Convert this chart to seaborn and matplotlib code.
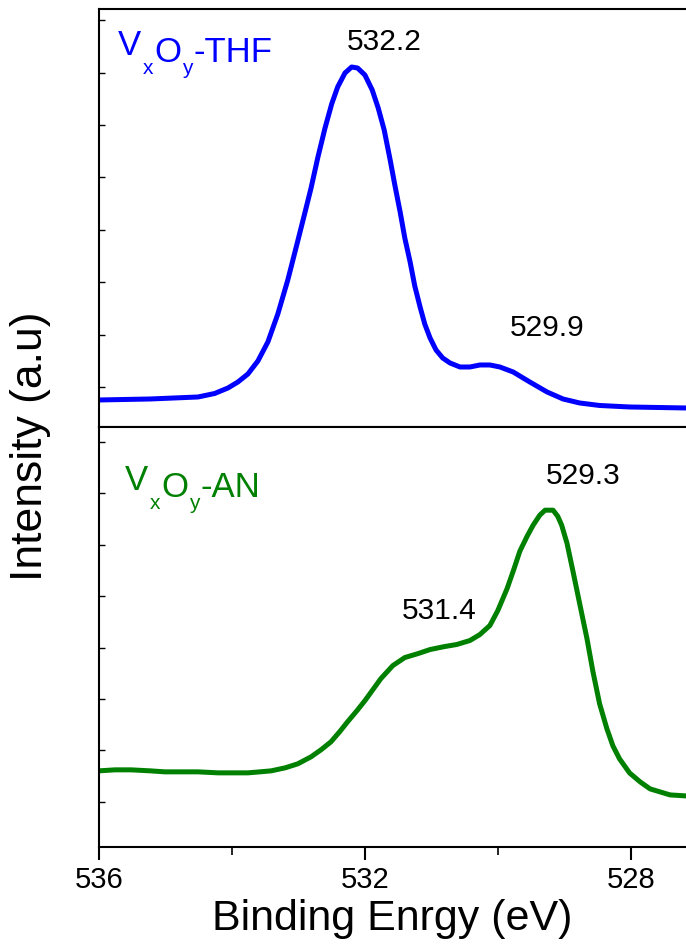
import matplotlib
matplotlib.use("Agg")
import matplotlib.pyplot as plt
import numpy as np
import pandas as pd
import seaborn as sns

# O 1s XPS spectra (arbitrary intensity units)
thf_energy = [536.00, 535.23, 534.51, 534.26, 534.06, 533.91, 533.76, 533.61, 533.46, 533.31,
              533.16, 533.01, 532.90, 532.81, 532.71, 532.60, 532.50, 532.41, 532.30, 532.20,
              532.11, 532.00, 531.89, 531.80, 531.71, 531.62, 531.55, 531.47, 531.40, 531.32,
              531.25, 531.17, 531.10, 531.02, 530.93, 530.83, 530.72, 530.57, 530.42, 530.27,
              530.12, 529.97, 529.77, 529.52, 529.26, 529.02, 528.77, 528.47, 528.02, 527.17]
thf_intensity = [27, 28, 30, 33.5, 39, 45, 53, 66, 85, 113,
                 147, 186, 215, 239, 269, 299, 323, 340, 354, 360,
                 359, 352, 337, 319, 297, 267, 242, 215, 189, 165,
                 141, 120, 103, 89, 77, 69, 64, 60, 60, 62,
                 62, 60, 55, 45, 35, 28, 24, 21.5, 20, 19]

an_energy = [536.00, 535.76, 535.52, 535.23, 535.01, 534.51, 534.21, 533.95, 533.76, 533.58,
             533.41, 533.20, 533.01, 532.81, 532.66, 532.51, 532.38, 532.26, 532.12, 532.00,
             531.88, 531.76, 531.58, 531.40, 531.20, 531.02, 530.80, 530.62, 530.42, 530.27,
             530.12, 530.00, 529.86, 529.76, 529.67, 529.56, 529.47, 529.37, 529.29, 529.17,
             529.10, 529.04, 528.96, 528.87, 528.77, 528.66, 528.57, 528.47, 528.36, 528.27,
             528.17, 528.02, 527.86, 527.71, 527.56, 527.41, 527.17]
an_intensity = [76, 77, 77, 76, 75, 75, 74, 74, 74, 75,
                76, 79, 83, 90, 97, 105, 115, 125, 136, 146,
                157, 168, 181, 189, 193, 197, 200, 202, 206, 212,
                221, 236, 258, 277, 295, 310, 321, 331, 336, 336,
                330, 321, 303, 275, 243, 208, 175, 143, 118, 101,
                88, 74, 65, 58, 55, 52, 51]

panel_tails = ["-THF", "-AN"]
panel_colors = ["#0000FF", "#008000"]
peak_text_top = ["532.2", "529.9"]
peak_text_bot = ["531.4", "529.3"]

sns.set_style("ticks")
plt.rcParams["font.family"] = ["Liberation Sans", "DejaVu Sans"]
plt.rcParams["text.color"] = "black"
plt.rcParams["axes.labelcolor"] = "black"
plt.rcParams["axes.edgecolor"] = "black"
plt.rcParams["xtick.color"] = "black"
plt.rcParams["ytick.color"] = "black"
plt.rcParams["axes.linewidth"] = 1.5


def formula_label(ax, x, y, tail, color):
    # V_x O_y-tail, built piece by piece so the subscripts sit low
    big, small, drop = 25, 15, -9
    v = ax.text(x, y, "V", transform=ax.transAxes, fontsize=big, color=color,
                va="baseline")
    sx = ax.annotate("x", xy=(1, 0), xycoords=v, xytext=(1.5, drop),
                     textcoords="offset points", fontsize=small, color=color,
                     va="baseline")
    o = ax.annotate("O", xy=(1, 0), xycoords=(sx, v), xytext=(0.5, 0),
                    textcoords="offset points", fontsize=big, color=color,
                    va="baseline")
    sy = ax.annotate("y", xy=(1, 0), xycoords=(o, v), xytext=(0.5, drop),
                     textcoords="offset points", fontsize=small, color=color,
                     va="baseline")
    ax.annotate(tail, xy=(1, 0), xycoords=(sy, v), xytext=(0.5, 0),
                textcoords="offset points", fontsize=big, color=color,
                va="baseline")


thf = pd.DataFrame({"energy": thf_energy, "intensity": thf_intensity})
an = pd.DataFrame({"energy": an_energy, "intensity": an_intensity})

fig = plt.figure(figsize=(6.86, 9.48), dpi=100)
left, right = 99 / 686, 1.0
ax_top = fig.add_axes([left, 0.5496, right - left, 0.9905 - 0.5496])
ax_bot = fig.add_axes([left, 0.1065, right - left, 0.5496 - 0.1065])

line_kw = dict(lw=3.6, sort=False, solid_joinstyle="round", solid_capstyle="round")
sns.lineplot(data=thf, x="energy", y="intensity", ax=ax_top, color=panel_colors[0], **line_kw)
sns.lineplot(data=an, x="energy", y="intensity", ax=ax_bot, color=panel_colors[1], **line_kw)

for ax in (ax_top, ax_bot):
    ax.set_xlim(536, 527.17)
    ax.spines["right"].set_visible(False)
    ax.set_ylabel("")
    ax.set_xlabel("")
    ax.set_yticklabels([])
    ax.tick_params(axis="y", direction="in", length=4, width=1, left=True)
    ax.set_xticks([536, 532, 528])
    ax.set_xticks([534, 530], minor=True)

ax_top.set_ylim(0, 418)
ax_top.set_yticks(np.arange(40, 418, 52.4))
ax_top.tick_params(axis="x", which="both", length=2, labelbottom=False)

ax_bot.set_ylim(0, 419)
ax_bot.set_yticks(np.arange(45, 419, 51.3))
ax_bot.tick_params(axis="x", which="major", direction="out", length=9, width=1.5,
                   labelsize=21, pad=5)
ax_bot.tick_params(axis="x", which="minor", direction="out", length=5.5, width=1.2)

formula_label(ax_top, 0.032, 0.89, panel_tails[0], panel_colors[0])
formula_label(ax_bot, 0.044, 0.85, panel_tails[1], panel_colors[1])

peak_kw = dict(fontsize=21.5, ha="center", va="center")
ax_top.text(531.71, 385, peak_text_top[0], **peak_kw)
ax_top.text(529.26, 99, peak_text_top[1], **peak_kw)
ax_bot.text(530.89, 235, peak_text_bot[0], **peak_kw)
ax_bot.text(528.72, 370, peak_text_bot[1], **peak_kw)

ax_bot.set_xlabel("Binding Enrgy (eV)", fontsize=31, labelpad=3)
fig.text(0.045, 0.5295, "Intensity (a.u)", rotation=90, fontsize=32,
         ha="center", va="center")

fig.savefig("out.png", dpi=100)
